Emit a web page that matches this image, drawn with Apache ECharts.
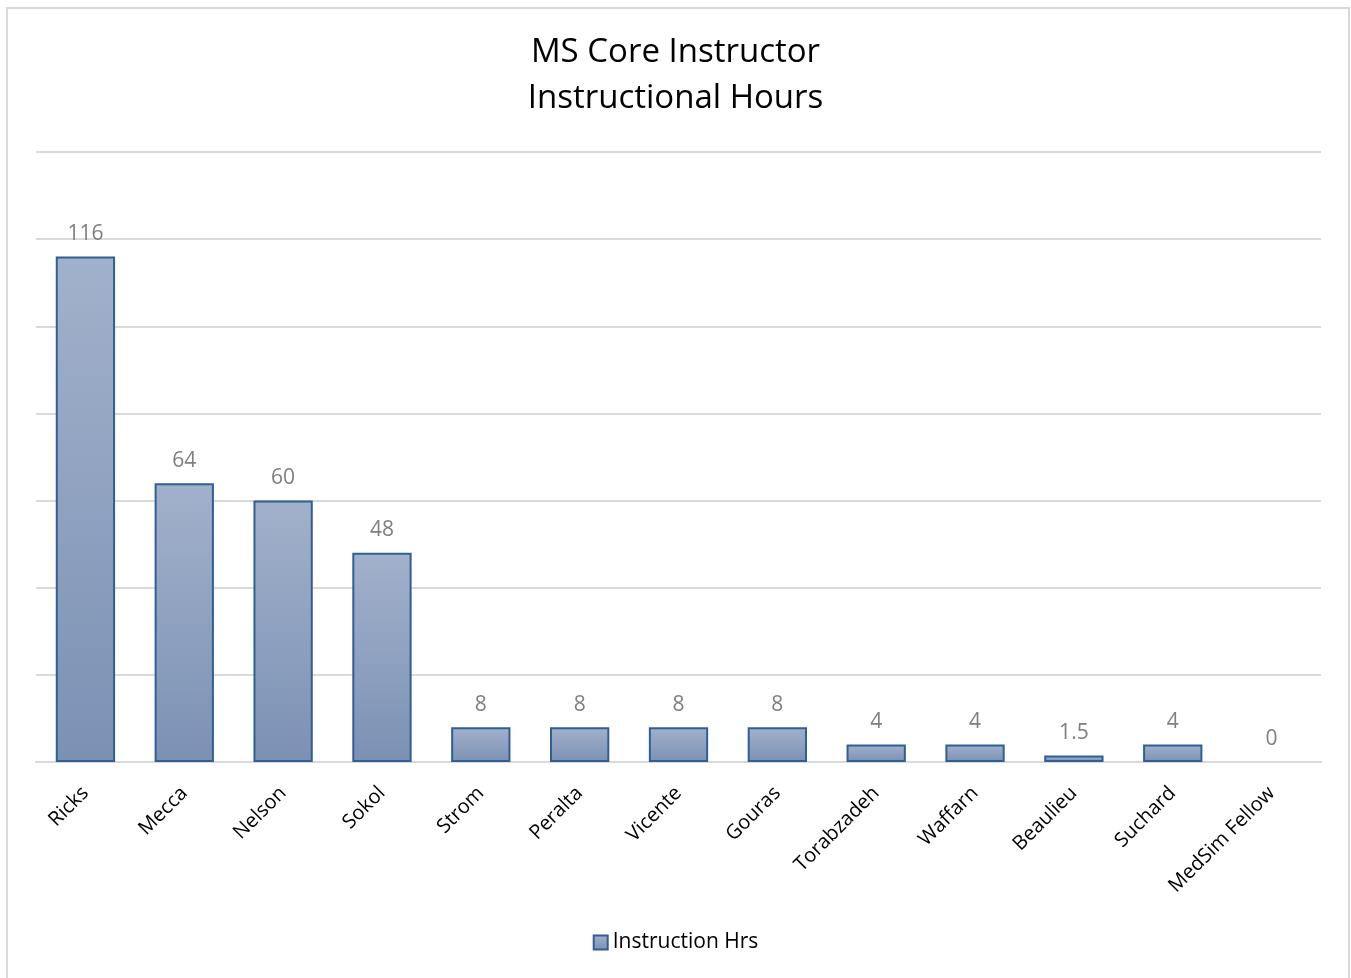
<!DOCTYPE html>
<html>
<head>
<meta charset="utf-8">
<script src="https://cdn.jsdelivr.net/npm/echarts@6/dist/echarts.min.js"></script>
<style>
  html, body { margin: 0; padding: 0; background: #fff; }
  #main { width: 1351px; height: 978px; }
</style>
</head>
<body>
<div id="main"></div>
<script>
var names = ['Ricks', 'Mecca', 'Nelson', 'Sokol', 'Strom', 'Peralta', 'Vicente', 'Gouras',
             'Torabzadeh', 'Waffarn', 'Beaulieu', 'Suchard', 'MedSim Fellow'];
var hours = [116, 64, 60, 48, 8, 8, 8, 8, 4, 4, 1.5, 4, 0];

var chart = echarts.init(document.getElementById('main'));
var fontName = '"Open Sans", "Liberation Sans", sans-serif';

// zero-height bars get no outline, like the original
var barData = hours.map(function (v) {
    return v === 0 ? { value: v, itemStyle: { borderWidth: 0 } } : v;
});

var option = {
    backgroundColor: '#fff',
    animation: false,
    title: {
        text: 'MS Core Instructor\nInstructional Hours',
        left: 'center',
        top: 25,
        textStyle: {
            fontFamily: fontName,
            fontSize: 33,
            fontWeight: 'normal',
            color: '#000',
            lineHeight: 46
        }
    },
    legend: {
        bottom: 20,
        left: 'center',
        itemWidth: 14,
        itemHeight: 14,
        itemGap: 4,
        icon: 'rect',
        itemStyle: { borderColor: '#2f5f95', borderWidth: 2 },
        textStyle: { fontFamily: fontName, fontSize: 21, color: '#000' },
        data: ['Instruction Hrs']
    },
    grid: { left: 36, right: 30, top: 152, bottom: 216 },
    xAxis: {
        type: 'category',
        data: names,
        axisLine: { lineStyle: { color: '#d9d9d9', width: 2 } },
        axisTick: { show: false },
        axisLabel: {
            rotate: 45,
            interval: 0,
            margin: 28,
            fontFamily: fontName,
            fontSize: 20,
            color: '#000'
        }
    },
    yAxis: {
        type: 'value',
        min: 0,
        max: 140,
        interval: 20,
        axisLabel: { show: false },
        axisLine: { show: false },
        axisTick: { show: false },
        splitLine: { lineStyle: { color: '#d9d9d9', width: 2 } }
    },
    series: [{
        name: 'Instruction Hrs',
        type: 'bar',
        data: barData,
        barCategoryGap: '40%',
        itemStyle: {
            color: new echarts.graphic.LinearGradient(0, 0, 0, 1, [
                { offset: 0, color: '#a2b1cb' },
                { offset: 1, color: '#7b91b4' }
            ]),
            borderColor: '#2f5f95',
            borderWidth: 2
        },
        label: {
            show: true,
            position: 'top',
            distance: 12,
            fontFamily: fontName,
            fontSize: 21,
            color: '#7f7f7f'
        }
    }],
    graphic: [{
        type: 'rect',
        shape: { x: 7, y: 8, width: 1342, height: 980 },
        style: { fill: null, stroke: '#d9d9d9', lineWidth: 2 },
        silent: true
    }]
};
chart.setOption(option);
</script>
</body>
</html>
